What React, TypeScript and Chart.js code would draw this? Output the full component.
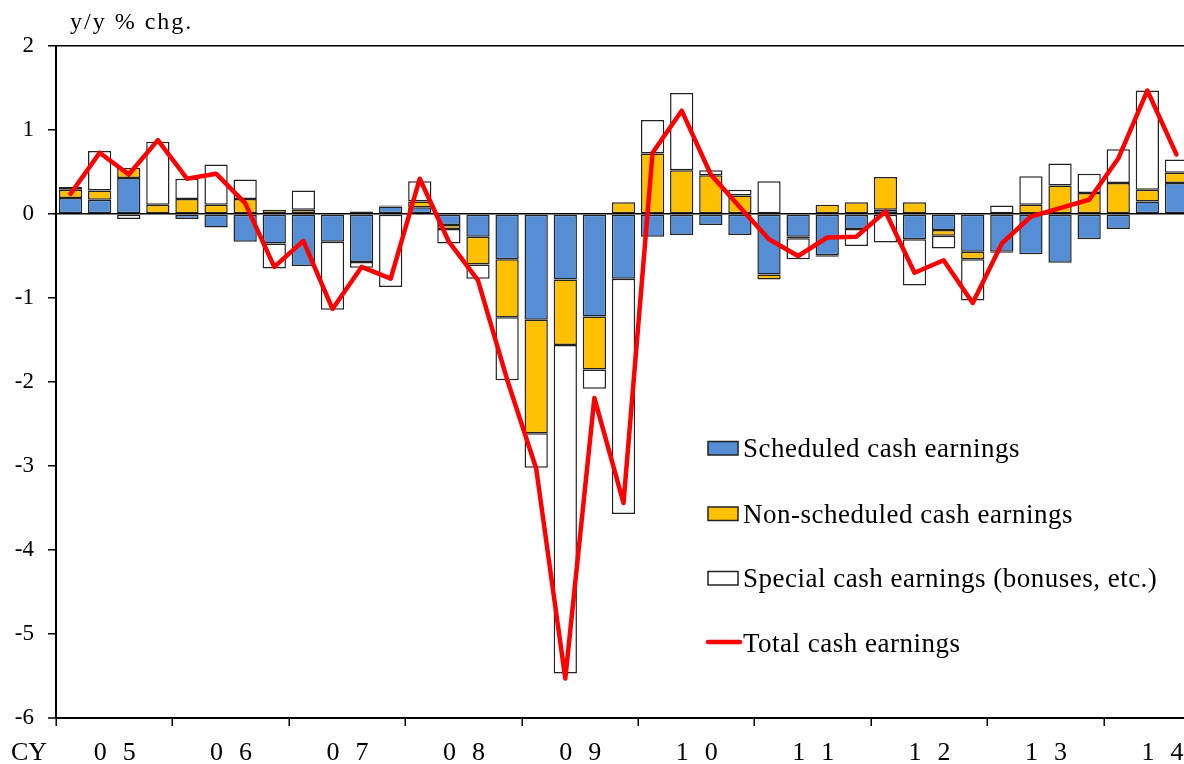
import React, { useEffect, useRef } from "react";
import { Chart, registerables } from "chart.js";

Chart.register(...registerables);

const quarters = [
  "05Q1", "05Q2", "05Q3", "05Q4",
  "06Q1", "06Q2", "06Q3", "06Q4",
  "07Q1", "07Q2", "07Q3", "07Q4",
  "08Q1", "08Q2", "08Q3", "08Q4",
  "09Q1", "09Q2", "09Q3", "09Q4",
  "10Q1", "10Q2", "10Q3", "10Q4",
  "11Q1", "11Q2", "11Q3", "11Q4",
  "12Q1", "12Q2", "12Q3", "12Q4",
  "13Q1", "13Q2", "13Q3", "13Q4",
  "14Q1", "14Q2", "14Q3",
];

const scheduled = [
  0.19, 0.17, 0.43, 0.0,
  -0.06, -0.16, -0.33, -0.35,
  -0.62, -0.33, -0.57, 0.09,
  0.08, -0.13, -0.27, -0.54,
  -1.26, -0.78, -1.22, -0.77,
  -0.27, -0.25, -0.13, -0.25,
  -0.72, -0.27, -0.49, -0.18,
  0.05, -0.3, -0.19, -0.45,
  -0.45, -0.48, -0.58, -0.3,
  -0.18, 0.15, 0.37,
];

const nonScheduled = [
  0.1, 0.11, 0.12, 0.11,
  0.18, 0.11, 0.18, 0.05,
  0.05, 0.01, 0.03, 0.01,
  0.07, -0.05, -0.33, -0.69,
  -1.35, -0.78, -0.63, 0.14,
  0.72, 0.52, 0.46, 0.22,
  -0.06, -0.02, 0.11, 0.14,
  0.39, 0.14, -0.07, -0.09,
  -0.01, 0.11, 0.34, 0.25,
  0.37, 0.14, 0.12,
];

const special = [
  0.03, 0.47, -0.06, 0.75,
  0.24, 0.48, 0.23, -0.3,
  0.23, -0.81, -0.07, -0.87,
  0.24, -0.17, -0.17, -0.75,
  -0.41, -3.91, -0.23, -2.8,
  0.4, 0.92, 0.06, 0.07,
  0.39, -0.25, -0.02, -0.2,
  -0.34, -0.55, -0.15, -0.49,
  0.1, 0.34, 0.26, 0.23,
  0.4, 1.18, 0.16,
];

const total = [
  0.24, 0.73, 0.47, 0.88,
  0.42, 0.48, 0.13, -0.63,
  -0.32, -1.13, -0.63, -0.77,
  0.42, -0.33, -0.79, -1.97,
  -3.03, -5.53, -2.19, -3.44,
  0.73, 1.23, 0.47, 0.08,
  -0.3, -0.5, -0.28, -0.27,
  0.03, -0.7, -0.55, -1.06,
  -0.35, -0.03, 0.07, 0.17,
  0.66, 1.47, 0.71,
];

const yearLabels = ["05", "06", "07", "08", "09", "10", "11", "12", "13", "14"];
const axisPrefix = "CY";
const unitLabel = "y/y % chg.";
const seriesNames = [
  "Scheduled cash earnings",
  "Non-scheduled cash earnings",
  "Special cash earnings (bonuses, etc.)",
  "Total cash earnings",
];
const yMin = -6;
const yMax = 2;

const SERIF = "'Liberation Serif', 'Times New Roman', serif";
const BLUE = "#558ED5";
const ORANGE = "#FFC000";
const WHITE = "#FFFFFF";
const RED = "#FF0000";
const EDGE = "#222222";

const decorPlugin = {
  id: "decor",
  afterDraw(chart: any) {
    const { ctx, chartArea, scales } = chart;
    const x = scales.x;
    const step = x.getPixelForValue(1) - x.getPixelForValue(0);
    const boundary = (i: number) => x.getPixelForValue(0) - step / 2 + i * step;
    ctx.save();

    // year tick marks below axis
    ctx.strokeStyle = "#000";
    ctx.lineWidth = 1.5;
    for (let k = 0; k <= yearLabels.length; k++) {
      const px = Math.round(boundary(k * 4)) + 0.25;
      ctx.beginPath();
      ctx.moveTo(px, chartArea.bottom);
      ctx.lineTo(px, chartArea.bottom + 8);
      ctx.stroke();
    }

    // year labels
    ctx.fillStyle = "#000";
    ctx.font = `26px ${SERIF}`;
    ctx.textBaseline = "alphabetic";
    ctx.textAlign = "center";
    yearLabels.forEach((lab, k) => {
      const c = boundary(k * 4 + 2);
      ctx.fillText(lab[0], c - 14, chartArea.bottom + 42);
      ctx.fillText(lab[1], c + 15, chartArea.bottom + 42);
    });
    ctx.textAlign = "left";
    ctx.fillText(axisPrefix, 11, chartArea.bottom + 42);

    // unit label
    ctx.font = `24px ${SERIF}`;
    (ctx as any).letterSpacing = "2px";
    ctx.fillText(unitLabel, 70, 29);
    (ctx as any).letterSpacing = "0px";

    // legend
    const lx = 708;
    const tx = 743;
    const baselines = [457, 522.5, 587, 652];
    const fills = [BLUE, ORANGE, WHITE];
    ctx.font = `27px ${SERIF}`;
    (ctx as any).letterSpacing = "0.5px";
    for (let i = 0; i < 3; i++) {
      const b = baselines[i];
      ctx.fillStyle = fills[i];
      ctx.fillRect(lx, b - 15.5, 30, 13.5);
      ctx.strokeStyle = EDGE;
      ctx.lineWidth = 1.5;
      ctx.strokeRect(lx, b - 15.5, 30, 13.5);
      ctx.fillStyle = "#000";
      ctx.fillText(seriesNames[i], tx, b);
    }
    ctx.strokeStyle = RED;
    ctx.lineWidth = 4.5;
    ctx.lineCap = "round";
    ctx.beginPath();
    ctx.moveTo(708, baselines[3] - 10);
    ctx.lineTo(740, baselines[3] - 10);
    ctx.stroke();
    ctx.fillStyle = "#000";
    ctx.fillText(seriesNames[3], tx, baselines[3]);
    (ctx as any).letterSpacing = "0px";

    ctx.restore();
  },
};

const lineAt = (v: number) => v === 0 || v === yMax || v === yMin;

export default function App() {
  const ref = useRef<HTMLCanvasElement>(null);

  useEffect(() => {
    const barCommon = {
      type: "bar" as const,
      borderColor: EDGE,
      borderWidth: 1.5,
      borderSkipped: false,
      barPercentage: 0.8,
      categoryPercentage: 1.0,
      stack: "parts",
      order: 1,
    };
    const chart = new Chart(ref.current as HTMLCanvasElement, {
      type: "bar",
      data: {
        labels: quarters,
        datasets: [
          {
            type: "line",
            label: seriesNames[3],
            data: total,
            borderColor: RED,
            borderWidth: 4.5,
            pointRadius: 0,
            tension: 0,
            borderJoinStyle: "round",
            borderCapStyle: "round",
            stack: "total",
            order: 0,
            fill: false,
          } as any,
          { ...barCommon, label: seriesNames[0], data: scheduled, backgroundColor: BLUE },
          { ...barCommon, label: seriesNames[1], data: nonScheduled, backgroundColor: ORANGE },
          { ...barCommon, label: seriesNames[2], data: special, backgroundColor: WHITE },
        ],
      },
      options: {
        responsive: false,
        devicePixelRatio: 1,
        animation: false,
        layout: { padding: { left: 0, top: 46, right: 9, bottom: 46 } },
        plugins: {
          legend: { display: false },
          tooltip: { enabled: false },
        },
        scales: {
          x: {
            display: false,
            stacked: true,
            offset: true,
          },
          y: {
            stacked: true,
            min: yMin,
            max: yMax,
            ticks: {
              stepSize: 1,
              color: "#000",
              padding: 14,
              font: { family: SERIF, size: 23 },
              callback: (v: any) => String(v),
            },
            grid: {
              color: (c: any) => (c.tick && lineAt(c.tick.value) ? "#000" : "rgba(0,0,0,0)"),
              lineWidth: (c: any) => (c.tick && c.tick.value === yMin ? 2 : 1.5),
              tickColor: "#000",
              tickLength: 8,
              tickWidth: 1.5,
            },
            border: { display: true, color: "#000", width: 2 },
            afterFit: (s: any) => {
              s.width = 56;
            },
          } as any,
        },
      },
      plugins: [decorPlugin],
    });
    return () => chart.destroy();
  }, []);

  return (
    <div
      style={{
        position: "fixed",
        left: 0,
        top: 0,
        width: 1184,
        height: 764,
        overflow: "hidden",
        background: "#fff",
      }}
    >
      <canvas ref={ref} width={1200} height={764} style={{ display: "block", width: 1200, height: 764 }} />
    </div>
  );
}
